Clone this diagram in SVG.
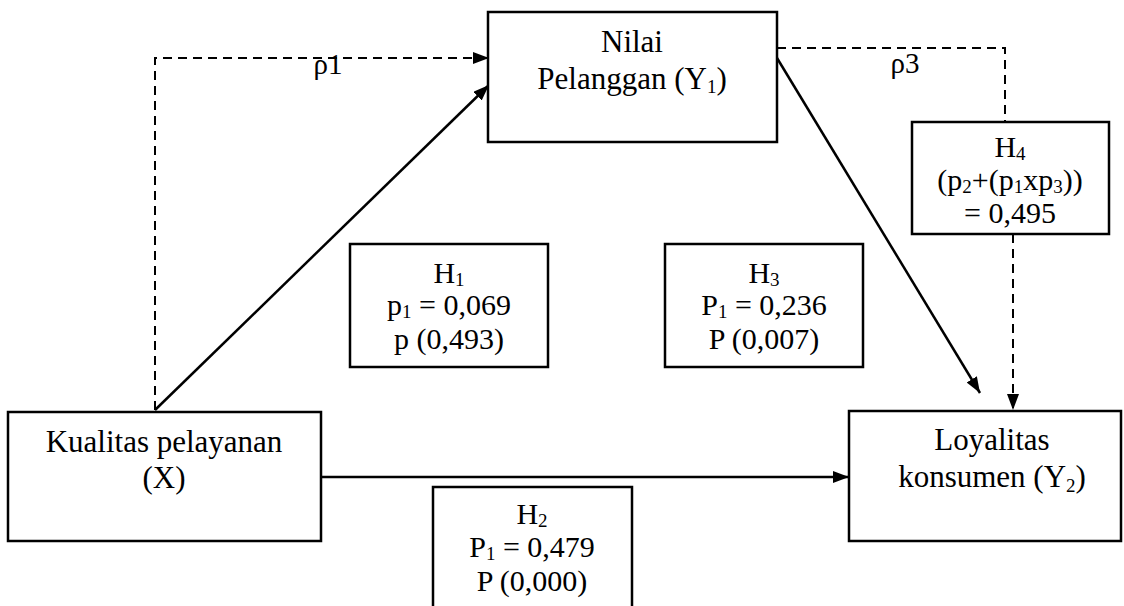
<svg xmlns="http://www.w3.org/2000/svg" width="1124" height="606" viewBox="0 0 1124 606">
<style>
.box{fill:#fff;stroke:#000;stroke-width:2.5}
text{font-family:'Liberation Serif','DejaVu Serif',serif;fill:#000;text-anchor:middle}
.t{font-size:31px}
.s{font-size:30px}
.r{font-size:29px}
.sub{font-size:19px}
.solid{fill:none;stroke:#000;stroke-width:2.5}
.dash{fill:none;stroke:#000;stroke-width:2;stroke-dasharray:9 6}
</style>
<defs>
<marker id="ah" viewBox="0 0 16 12" refX="16" refY="6" markerWidth="16" markerHeight="12" markerUnits="userSpaceOnUse" orient="auto">
<path d="M0,0 L16,6 L0,12 Z" fill="#000"/>
</marker>
</defs>
<rect width="1124" height="606" fill="#fff"/>
<g id="connectors">
<path class="dash" d="M155,410 L155,58 L489,58" marker-end="url(#ah)"/>
<path class="solid" d="M155,410 L489,85" marker-end="url(#ah)"/>
<path class="dash" d="M777,48 L1005,48 L1005,122"/>
<path class="solid" d="M777,58 L980,393" marker-end="url(#ah)"/>
<path class="dash" d="M1013,234 L1013,410" marker-end="url(#ah)"/>
<path class="solid" d="M321,477 L849,477" marker-end="url(#ah)"/>
<text class="r" x="328" y="74">ρ1</text>
<text class="r" x="905" y="73">ρ3</text>
</g>
<g id="nilai">
<rect class="box" x="488" y="12" width="289" height="130"/>
<text class="t" x="632" y="52">Nilai</text>
<text class="t" x="632" y="89">Pelanggan (Y<tspan class="sub" dy="4">1</tspan><tspan dy="-4">)</tspan></text>
</g>
<g id="kualitas">
<rect class="box" x="8" y="412" width="313" height="129"/>
<text class="t" x="164" y="452">Kualitas pelayanan</text>
<text class="t" x="164" y="488">(X)</text>
</g>
<g id="loyalitas">
<rect class="box" x="849" y="411" width="272" height="130"/>
<text class="t" x="992" y="450">Loyalitas</text>
<text class="t" x="992" y="487">konsumen (Y<tspan class="sub" dy="5">2</tspan><tspan dy="-5">)</tspan></text>
</g>
<g id="h1">
<rect class="box" x="350" y="244" width="198" height="123"/>
<text class="s" x="449" y="283">H<tspan class="sub" dy="3">1</tspan></text>
<text class="s" x="449" y="315">p<tspan class="sub" dy="3">1</tspan><tspan dy="-3"> = 0,069</tspan></text>
<text class="s" x="449" y="349">p (0,493)</text>
</g>
<g id="h3">
<rect class="box" x="665" y="244" width="198" height="123"/>
<text class="s" x="764" y="283">H<tspan class="sub" dy="3">3</tspan></text>
<text class="s" x="764" y="315">P<tspan class="sub" dy="3">1</tspan><tspan dy="-3"> = 0,236</tspan></text>
<text class="s" x="764" y="349">P (0,007)</text>
</g>
<g id="h2">
<rect class="box" x="433" y="487" width="199" height="125"/>
<text class="s" x="532" y="524">H<tspan class="sub" dy="3">2</tspan></text>
<text class="s" x="532" y="557">P<tspan class="sub" dy="3">1</tspan><tspan dy="-3"> = 0,479</tspan></text>
<text class="s" x="532" y="591">P (0,000)</text>
</g>
<g id="h4">
<rect class="box" x="912" y="122" width="197" height="112"/>
<text class="s" x="1010" y="157">H<tspan class="sub" dy="3">4</tspan></text>
<text class="s" x="1010" y="190">(p<tspan class="sub" dy="3">2</tspan><tspan dy="-3">+(p</tspan><tspan class="sub" dy="3">1</tspan><tspan dy="-3">xp</tspan><tspan class="sub" dy="3">3</tspan><tspan dy="-3">))</tspan></text>
<text class="s" x="1010" y="223">= 0,495</text>
</g>
</svg>
